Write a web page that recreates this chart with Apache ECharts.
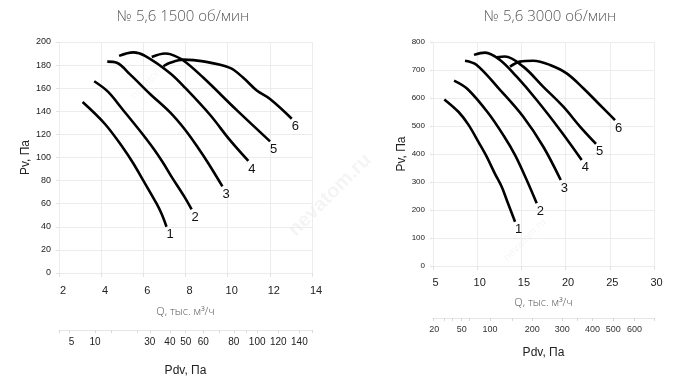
<!DOCTYPE html>
<html>
<head>
<meta charset="utf-8">
<script src="https://cdn.jsdelivr.net/npm/echarts@6/dist/echarts.min.js"></script>
<style>
html,body{margin:0;padding:0;background:#fff;}
#c{width:700px;height:382px;}
</style>
</head>
<body>
<div id="c"></div>
<script>
// ---------- DATA ----------
const curveNames = ['1', '2', '3', '4', '5', '6'];

// 1500 rpm: [Q, Pv]
const left1 = [[3.12,148],[4.18,129],[5.05,108],[5.52,95],[6.0,80],[6.63,60],[6.87,51],[7.1,40]];
const left2 = [[3.67,166],[4.32,157],[5.0,142],[5.8,124],[6.47,108],[6.95,95],[7.35,83],[7.98,65],[8.29,55]];
const left3 = [[4.29,183],[4.74,182],[5.37,172],[6.32,155],[7.27,139],[7.98,124],[8.61,108],[9.08,95],[9.75,75]];
const left4 = [[4.85,188],[5.52,191],[6.08,188],[7.27,173],[8.0,160],[9.16,137],[10.11,115],[10.98,97]];
const left5 = [[6.4,187],[7.03,190],[7.27,189.5],[7.9,184],[8.85,169],[10.43,141],[12.01,114]];
const left6 = [[6.95,179],[7.27,182],[7.9,184.7],[8.85,183.2],[10.11,177.6],[10.74,169],[11.38,158],[12.01,150.6],[13.04,133.6]];

// 3000 rpm: [Q, Pv]
const right1 = [[6.28,595],[7.9,550],[9.0,505],[10.2,440],[11.0,395],[12.0,330],[12.77,283],[13.34,236],[14.28,158]];
const right2 = [[7.38,662],[8.9,632],[11.2,548],[13.0,465],[14.3,395],[15.6,307],[16.73,224]];
const right3 = [[8.62,733],[9.94,718],[12.58,629],[15.21,533],[17.48,426],[19.45,307]];
const right4 = [[9.64,754],[10.88,762],[12.58,736],[14.47,676],[16.73,593],[19.37,486],[21.82,379]];
const right5 = [[12.2,745],[13.14,748],[15.21,712],[17.48,640],[19.74,569],[21.63,498],[23.44,436]];
const right6 = [[13.71,712],[14.84,730],[16.35,733],[18.24,718],[20.12,688],[22.0,635],[23.89,575],[25.59,521]];

// Dynamic-pressure scale: label and the Q position where it sits
const pdvLeftLabels = [5, 10, 30, 40, 50, 60, 80, 100, 120, 140];
const pdvLeftAtQ    = [2.6, 3.71, 6.31, 7.26, 8.01, 8.84, 10.29, 11.4, 12.4, 13.4];
const pdvLeftTicksQ = [2.0, 2.5, 3.71, 4.5, 5.69, 6.31, 7.26, 8.01, 8.84, 9.6, 10.29, 10.9, 11.4, 12.4, 13.4, 14.0];

const pdvRightLabels = [20, 50, 100, 200, 300, 400, 500, 600];
const pdvRightAtQ    = [5.15, 8.25, 11.45, 16.24, 19.63, 23.03, 25.4, 27.8];
const pdvRightTicksQ = [5.0, 6.3, 7.2, 8.25, 9.1, 11.45, 14.0, 16.24, 19.63, 21.3, 23.03, 25.4, 27.8, 30.0];

const leftTitle = '№ 5,6 1500 об/мин';
const rightTitle = '№ 5,6 3000 об/мин';

// ---------- CHART ----------
const chart = echarts.init(document.getElementById('c'), null, {renderer: 'canvas'});

const gridColor = '#ececec';
const lblFont = 'Liberation Sans, Arial, sans-serif';
const thinFont = '"Open Sans", "Noto Sans", sans-serif';

function pdvFormatter(labels, pos) {
  return function (v) {
    let best = -1, bd = 1e9;
    for (let i = 0; i < pos.length; i++) {
      const d = Math.abs(pos[i] - v);
      if (d < bd) { bd = d; best = i; }
    }
    return bd < 1e-6 ? String(labels[best]) : '';
  };
}

function qAxis(grid, min, max, interval, pad, margin, gap) {
  return {
    type: 'value', gridIndex: grid, min: min, max: max, interval: interval,
    position: 'bottom',
    name: 'Q, тыс. м³/ч', nameLocation: 'middle', nameGap: gap,
    nameTextStyle: {fontFamily: thinFont, fontWeight: 300, fontSize: 11, color: '#555'},
    axisLine: {show: true, lineStyle: {color: gridColor}},
    axisTick: {show: true, length: 4, lineStyle: {color: '#e2e2e2'}},
    axisLabel: {fontFamily: lblFont, fontSize: 11, color: '#222', margin: margin, padding: [0, 0, 0, pad]},
    splitLine: {show: true, lineStyle: {color: gridColor}}
  };
}

function pdvAxis(grid, min, max, offset, labels, pos, ticks, fs, color, gap) {
  return {
    type: 'value', gridIndex: grid, min: min, max: max,
    position: 'bottom', offset: offset,
    name: 'Pdv, Па', nameLocation: 'middle', nameGap: gap,
    nameTextStyle: {fontFamily: lblFont, fontSize: 12, color: '#222'},
    axisLine: {show: true, lineStyle: {color: '#e6e6e6'}},
    axisTick: {show: true, length: 3, customValues: ticks, lineStyle: {color: '#d8d8d8'}},
    axisLabel: {fontFamily: lblFont, fontSize: fs, color: color, margin: 7,
      customValues: pos, formatter: pdvFormatter(labels, pos)},
    splitLine: {show: false}
  };
}

function pvAxis(grid, max, interval, fs, gap) {
  return {
    type: 'value', gridIndex: grid, min: 0, max: max, interval: interval,
    name: 'Pv, Па', nameLocation: 'middle', nameGap: gap,
    nameTextStyle: {fontFamily: lblFont, fontSize: 12, color: '#222'},
    axisLine: {show: true, lineStyle: {color: gridColor}},
    axisTick: {show: true, length: 3, lineStyle: {color: '#e2e2e2'}},
    axisLabel: {fontFamily: lblFont, fontSize: fs, color: '#222', margin: 8},
    splitLine: {show: true, lineStyle: {color: gridColor}}
  };
}

function curve(name, data, xi, yi) {
  return {
    type: 'line', name: name, data: data, xAxisIndex: xi, yAxisIndex: yi,
    smooth: 0.35, showSymbol: false, silent: true,
    lineStyle: {color: '#000', width: 2.6},
    endLabel: {show: true, formatter: '{a}', color: '#111', fontFamily: lblFont,
      fontSize: 13, distance: 0, offset: [0, 8]}
  };
}

const leftData = [left1, left2, left3, left4, left5, left6];
const rightData = [right1, right2, right3, right4, right5, right6];

const series = [];
leftData.forEach((d, i) => series.push(curve(curveNames[i], d, 0, 0)));
rightData.forEach((d, i) => series.push(curve(curveNames[i], d, 2, 1)));

function wm(x, y, size, weight) {
  return {type: 'text', x: x, y: y, rotation: Math.PI / 4, silent: true, z: -1,
    style: {text: 'nevatom.ru', fill: 'rgba(0,0,0,0.045)', fontSize: size,
      fontWeight: weight, fontFamily: lblFont, align: 'center', verticalAlign: 'middle'}};
}

chart.setOption({
  animation: false,
  backgroundColor: '#fff',
  grid: [
    {left: 59, right: 388, top: 42, bottom: 105, containLabel: false},
    {left: 433, right: 46, top: 42, bottom: 116, containLabel: false}
  ],
  xAxis: [
    qAxis(0, 2, 14, 2, 8, 12, 33),
    pdvAxis(0, 2, 14, 57, pdvLeftLabels, pdvLeftAtQ, pdvLeftTicksQ, 10, '#222', 35),
    qAxis(1, 5, 30, 5, 5, 11, 31),
    pdvAxis(1, 5, 30, 52, pdvRightLabels, pdvRightAtQ, pdvRightTicksQ, 9, '#333', 29)
  ],
  yAxis: [
    pvAxis(0, 200, 20, 9, 26),
    pvAxis(1, 800, 100, 8, 21)
  ],
  graphic: [
    {type: 'text', x: 183, y: 17, silent: true,
      style: {text: leftTitle, fontFamily: thinFont, fontWeight: 300, fontSize: 15, fill: '#555',
        align: 'center', verticalAlign: 'middle'}},
    {type: 'text', x: 550, y: 17, silent: true,
      style: {text: rightTitle, fontFamily: thinFont, fontWeight: 300, fontSize: 15, fill: '#555',
        align: 'center', verticalAlign: 'middle'}},
    wm(152, 78, 11, 'normal'),
    wm(330, 195, 20, 'bold'),
    wm(525, 240, 11, 'normal')
  ],
  series: series
});
</script>
</body>
</html>
